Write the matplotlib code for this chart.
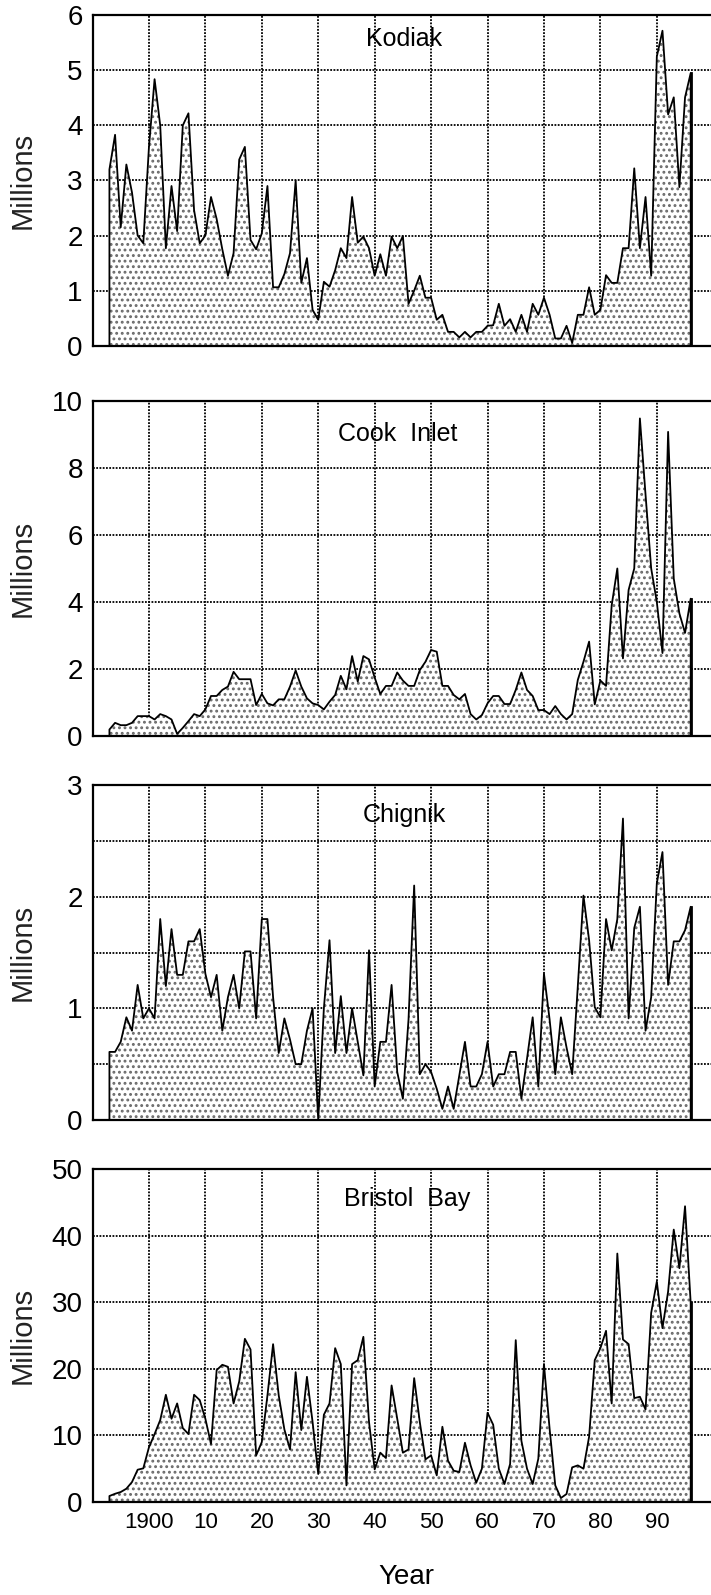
import numpy as np
import matplotlib.pyplot as plt

plt.rcParams['font.family'] = ['Liberation Sans', 'DejaVu Sans']
plt.rcParams['hatch.linewidth'] = 1.3

# Data: catch in millions, 1893-1996
years = np.arange(1893, 1997)

kodiak = [3.2, 3.83, 2.15, 3.29, 2.78, 2.0, 1.86,
          3.6, 4.84, 4.0, 1.77, 2.9, 2.08, 4.0, 4.22, 2.46, 1.86,
          2.0, 2.7, 2.3, 1.75, 1.27, 1.68, 3.38, 3.61, 1.92, 1.75,
          2.04, 2.9, 1.06, 1.06, 1.3, 1.68, 3.0, 1.14, 1.59, 0.65,
          0.47, 1.16, 1.07, 1.37, 1.77, 1.59, 2.7, 1.87, 1.98, 1.77,
          1.27, 1.66, 1.27, 1.98, 1.77, 1.99, 0.76, 1.0, 1.27, 0.87,
          0.87, 0.47, 0.56, 0.25, 0.25, 0.15, 0.25, 0.15, 0.25, 0.25,
          0.36, 0.37, 0.76, 0.36, 0.48, 0.25, 0.56, 0.25, 0.76, 0.56,
          0.87, 0.56, 0.13, 0.13, 0.36, 0.05, 0.56, 0.56, 1.06, 0.56,
          0.65, 1.28, 1.14, 1.14, 1.77, 1.77, 3.22, 1.77, 2.7, 1.27,
          5.25, 5.72, 4.2, 4.51, 2.88, 4.51, 4.95]

cook_inlet = [0.2, 0.4, 0.33, 0.33, 0.4, 0.6, 0.6,
              0.6, 0.5, 0.66, 0.6, 0.5, 0.07, 0.25, 0.45, 0.66, 0.6,
              0.8, 1.2, 1.2, 1.38, 1.48, 1.92, 1.7, 1.7, 1.7, 0.93,
              1.26, 0.98, 0.92, 1.1, 1.1, 1.48, 1.96, 1.48, 1.13, 0.98,
              0.93, 0.8, 1.03, 1.23, 1.8, 1.4, 2.39, 1.63, 2.39, 2.29,
              1.75, 1.26, 1.5, 1.5, 1.9, 1.66, 1.5, 1.5, 1.97, 2.22,
              2.57, 2.52, 1.5, 1.5, 1.23, 1.1, 1.26, 0.66, 0.5, 0.63,
              0.98, 1.2, 1.2, 0.96, 0.96, 1.38, 1.9, 1.38, 1.2, 0.78,
              0.78, 0.66, 0.9, 0.66, 0.5, 0.66, 1.68, 2.22, 2.82, 0.95,
              1.66, 1.5, 3.9, 5.0, 2.32, 4.36, 5.0, 9.47, 7.2, 5.0,
              4.0, 2.48, 9.07, 4.7, 3.66, 3.08, 4.1]

chignik = [0.61, 0.61, 0.70, 0.92, 0.8, 1.21, 0.91,
           1.0, 0.91, 1.8, 1.2, 1.71, 1.3, 1.3, 1.6, 1.6, 1.71,
           1.31, 1.1, 1.3, 0.8, 1.1, 1.3, 1.0, 1.51, 1.51, 0.91,
           1.8, 1.8, 1.1, 0.6, 0.91, 0.72, 0.5, 0.5, 0.8, 1.0,
           0.0, 1.0, 1.61, 0.6, 1.11, 0.6, 1.0, 0.7, 0.4, 1.52,
           0.3, 0.7, 0.7, 1.21, 0.43, 0.19, 0.9, 2.1, 0.41, 0.5,
           0.43, 0.28, 0.1, 0.3, 0.1, 0.4, 0.7, 0.3, 0.3, 0.41,
           0.7, 0.3, 0.41, 0.41, 0.61, 0.61, 0.19, 0.55, 0.92, 0.3,
           1.31, 0.9, 0.41, 0.92, 0.65, 0.41, 1.2, 2.01, 1.61, 1.01,
           0.92, 1.8, 1.52, 1.8, 2.7, 0.91, 1.72, 1.91, 0.8, 1.1,
           2.12, 2.4, 1.21, 1.6, 1.6, 1.7, 1.91]

bristol_bay = [0.9, 1.24, 1.5, 2.0, 3.0, 4.85, 5.05,
               8.2, 10.2, 12.3, 16.1, 12.5, 14.8, 11.1, 10.2, 16.1, 15.3,
               12.5, 8.7, 19.8, 20.6, 20.3, 14.8, 18.1, 24.5, 22.9, 7.0,
               9.0, 16.0, 23.7, 16.0, 10.9, 7.9, 19.5, 10.8, 18.8, 12.0,
               4.2, 13.1, 14.8, 23.1, 20.7, 2.5, 20.7, 21.3, 24.8, 12.0,
               4.9, 7.4, 6.6, 17.5, 12.5, 7.4, 7.9, 18.6, 12.0, 6.4,
               7.0, 4.0, 11.3, 6.2, 4.7, 4.5, 8.9, 5.5, 2.9, 5.0,
               13.4, 11.6, 5.0, 2.7, 5.7, 24.3, 9.2, 5.0, 2.7, 6.5,
               20.7, 11.0, 2.5, 0.6, 1.2, 5.2, 5.5, 5.0, 9.8, 21.3,
               23.1, 25.7, 14.8, 37.3, 24.4, 23.7, 15.6, 15.8, 13.9, 28.4,
               33.1, 26.1, 31.6, 40.9, 35.1, 44.4, 29.9]

titles = ["Kodiak", "Cook  Inlet", "Chignik", "Bristol  Bay"]
series = [kodiak, cook_inlet, chignik, bristol_bay]
y_tops = [6, 10, 3, 50]
y_labels = [[0, 1, 2, 3, 4, 5, 6], [0, 2, 4, 6, 8, 10], [0, 1, 2, 3],
            [0, 10, 20, 30, 40, 50]]
y_minor = [[], [], [0.5, 1.5, 2.5], []]
decades = np.arange(1900, 2000, 10)
decade_labels = ["1900", "10", "20", "30", "40", "50", "60", "70", "80", "90"]

# layout (figure fractions)
rects = [[0.1301, 0.7833, 0.8699, 0.2071],
         [0.1301, 0.5384, 0.8699, 0.2104],
         [0.1301, 0.2978, 0.8699, 0.2100],
         [0.1301, 0.0583, 0.8699, 0.2088]]
title_pos = [(1945.2, 0.927), (1944.1, 0.902), (1945.2, 0.910), (1945.7, 0.910)]

fig = plt.figure(figsize=(7.11, 15.95), dpi=100)

for i in range(4):
    ax = fig.add_axes(rects[i])
    vals = np.array(series[i])
    ax.fill_between(years, 0, vals, facecolor='white', edgecolor='#6a6a6a',
                    linewidth=0, hatch='...', zorder=2)
    ax.plot(np.r_[years[0], years, years[-1]], np.r_[0, vals, 0],
            color='black', lw=1.3, zorder=3)
    # thicker closing edge at the last year
    ax.plot([years[-1], years[-1]], [0, vals[-1]], color='black', lw=2.0, zorder=3)

    ax.set_xlim(1890, 1999.6)
    ax.set_ylim(0, y_tops[i])
    ax.set_xticks(decades)
    ax.set_yticks(y_labels[i])
    ax.set_yticks(y_minor[i], minor=True)
    ax.set_axisbelow(True)
    ax.grid(True, which='both', color='black', linestyle=(0, (1, 0.8)), linewidth=1.3)

    ax.tick_params(axis='both', which='both', length=0)
    ax.tick_params(axis='y', pad=7, labelsize=20)
    if i == 3:
        ax.set_xticklabels(decade_labels)
        ax.tick_params(axis='x', pad=7, labelsize=16)
    else:
        ax.tick_params(axis='x', labelbottom=False)

    ax.spines['right'].set_visible(False)
    for s in ['left', 'top', 'bottom']:
        ax.spines[s].set_linewidth(1.6)

    tx, ty = title_pos[i]
    ax.text(tx, ty, titles[i], transform=ax.get_xaxis_transform(),
            ha='center', va='center', fontsize=18, zorder=5)

    fig.text(0.0323, rects[i][1] + rects[i][3] / 2, 'Millions', rotation=90,
             ha='center', va='center', fontsize=21, color='#222222')

fig.text(0.571, 0.0113, 'Year', ha='center', va='center', fontsize=20)

fig.savefig('out.png', dpi=100)
